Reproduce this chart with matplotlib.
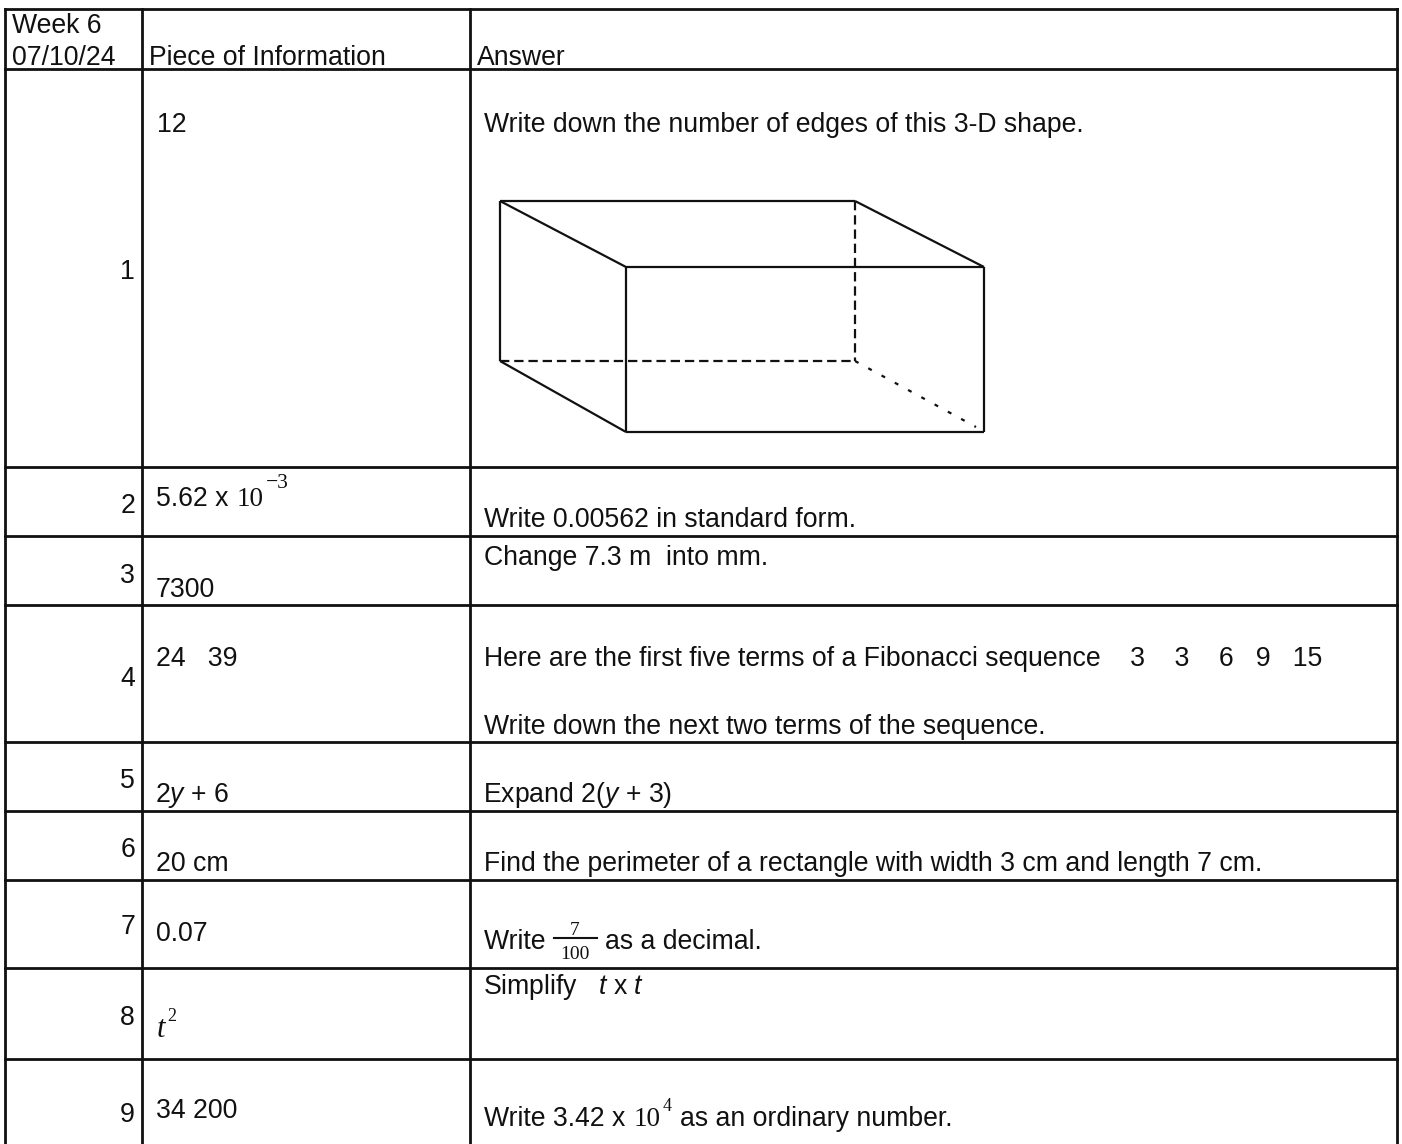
import matplotlib
matplotlib.use('Agg')
import matplotlib.pyplot as plt

W, H = 1402, 1144
plt.rcParams['font.family'] = ['Liberation Sans', 'DejaVu Sans']
plt.rcParams['mathtext.fontset'] = 'custom'
plt.rcParams['mathtext.rm'] = 'Liberation Sans'
plt.rcParams['mathtext.it'] = 'Liberation Sans:italic'

# table content
header_date = ['Week 6', '07/10/24']
header_cols = ['Piece of Information', 'Answer']
row_numbers = ['1', '2', '3', '4', '5', '6', '7', '8', '9']
answers = ['12', '5.62 x ', '7300', '24   39', '2$\\mathit{y}$ + 6', '20 cm', '0.07', '', '34 200']
questions = ['Write down the number of edges of this 3-D shape.',
             'Write 0.00562 in standard form.',
             'Change 7.3 m  into mm.',
             'Here are the first five terms of a Fibonacci sequence    3    3    6   9   15',
             'Expand 2($\\mathit{y}$ + 3)',
             'Find the perimeter of a rectangle with width 3 cm and length 7 cm.',
             'Write ',
             'Simplify   $\\mathit{t}$ x $\\mathit{t}$',
             'Write 3.42 x ']
question_4b = 'Write down the next two terms of the sequence.'

# layout, in pixels of the picture
col_x = [5, 142, 470, 1397]
row_y = [9, 69, 467, 536, 605, 742, 811, 880, 968, 1059]
num_base = [279, 513, 583, 686, 788, 857, 934, 1025, 1122]
ans_base = [132, 506, 597, 666, 802, 871, 941, 1036, 1118]
que_base = [132, 527, 565, 666, 802, 871, 949, 994, 1126]

FS = 19.2
SERIF = 'Liberation Serif'


def txt(ax, x, y, s, size=FS, **kw):
    return ax.text(x, y, s, fontsize=size, va='baseline', color='#111111', **kw)


def edge(ax, a, b, ls='-', lw=1.6):
    ax.plot([a[0], b[0]], [a[1], b[1]], color='#111111', lw=lw, ls=ls, solid_capstyle='butt')


def main():
    fig = plt.figure(figsize=(W / 100, H / 100), dpi=100)
    ax = fig.add_axes([0, 0, 1, 1])
    ax.set_xlim(0, W)
    ax.set_ylim(H, 0)
    ax.axis('off')

    # grid
    for x in col_x:
        ax.plot([x, x], [row_y[0], H], color='#111111', lw=2.0)
    for y in row_y:
        ax.plot([col_x[0], col_x[-1]], [y, y], color='#111111', lw=2.0)

    # header
    txt(ax, 12, 33, header_date[0])
    txt(ax, 12, 65, header_date[1])
    txt(ax, 149, 65, header_cols[0])
    txt(ax, 477, 65, header_cols[1])

    for i in range(len(row_numbers)):
        txt(ax, 135, num_base[i], row_numbers[i], ha='right')
        ans_x = 157 if i == 0 else 156
        if '$' in answers[i]:
            ans_x -= 1
        if answers[i]:
            txt(ax, ans_x, ans_base[i], answers[i])
        que_x = 483 if '$' in questions[i] else 484
        txt(ax, que_x, que_base[i], questions[i])
    txt(ax, 484, 734, question_4b)

    # powers and fractions in serif
    txt(ax, 237, 506, '10', size=19.5, family=SERIF)
    txt(ax, 266, 488, '\u22123', size=15.5, family=SERIF)
    txt(ax, 157, 1037, 't', size=22, family=SERIF, style='italic')
    txt(ax, 167, 1021, '2', size=13, family=SERIF)
    txt(ax, 575, 935, '7', size=14, family=SERIF, ha='center')
    txt(ax, 575, 959, '100', size=14, family=SERIF, ha='center')
    ax.plot([554, 597], [938, 938], color='#111111', lw=1.5)
    txt(ax, 605, 949, 'as a decimal.')
    txt(ax, 634, 1126, '10', size=19.5, family=SERIF)
    txt(ax, 663, 1111, '4', size=13, family=SERIF)
    txt(ax, 680, 1126, 'as an ordinary number.')

    # box drawing
    a, b = (500, 201), (855, 201)
    c, d = (626, 267), (984, 267)
    e, f = (500, 361), (855, 361)
    g, h = (626, 432), (984, 432)
    for p, q in [(a, b), (a, c), (b, d), (c, d), (a, e), (c, g), (d, h), (g, h), (e, g)]:
        edge(ax, p, q)
    for p, q in [(b, f), (e, f)]:
        edge(ax, p, q, ls=(0, (4.2, 2.2)))
    edge(ax, f, (976, 427), ls=(0, (1.8, 5.0)))

    fig.savefig('out.png', dpi=100, facecolor='white')


if __name__ == '__main__':
    main()
